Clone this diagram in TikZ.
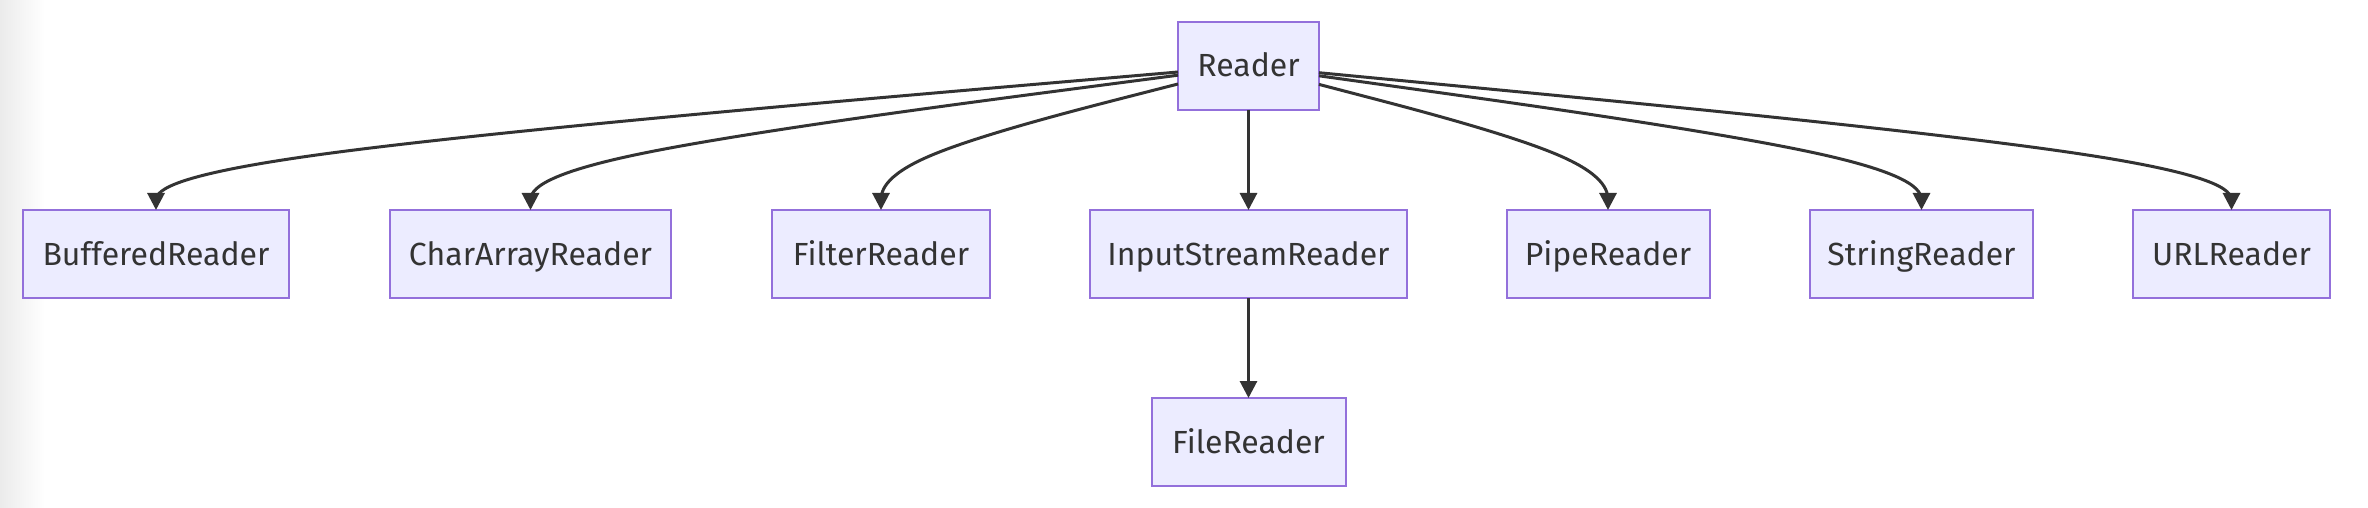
\documentclass[tikz,border=0pt]{standalone}
\usepackage{fontspec}
\setmainfont{Fira Sans}
\usetikzlibrary{calc,arrows.meta}
\definecolor{nodefill}{HTML}{ECECFF}
\definecolor{nodeline}{HTML}{9370DB}
\definecolor{edgecol}{HTML}{333333}
\definecolor{txtcol}{HTML}{333333}
\definecolor{leftgray}{HTML}{EBEBEB}
\tikzset{
  cls/.style={draw=nodeline, fill=nodefill, line width=1pt, rectangle,
    minimum height=44pt, inner sep=0pt, outer sep=0pt, text=txtcol,
    font=\fontsize{16}{19}\selectfont, text height=11pt, text depth=0pt},
  edge/.style={draw=edgecol, line width=1.5pt,
    -{Triangle[length=8.5pt,width=8.5pt]}},
}
\newcommand\basisedge[2]{%
  \path (#2.north) ++(0,-50) coordinate (m);
  \coordinate (c) at (#2.north);
  \path (#1) -- (m) coordinate[pos=0] (a);
  \draw[edge] (a) -- ($(a)!1/6!(m)$)
    .. controls ($(a)!1/3!(m)$) and ($(a)!2/3!(m)$) .. ($1/6*(a)+2/3*(m)+1/6*(c)$)
    .. controls ($(m)!1/3!(c)$) and ($(m)!2/3!(c)$) .. ($(m)!5/6!(c)$) -- (c);
}
\begin{document}
\begin{tikzpicture}[x=0.5pt,y=-0.5pt]
  \useasboundingbox (0,0) rectangle (2368,508);
  \fill[white] (0,0) rectangle (2368,508);
  \shade[left color=leftgray, right color=white] (0,0) rectangle (45,508);

  \node[cls, minimum width=70.5pt]  (R)   at (1248.5,66)  {Reader};
  \node[cls, minimum width=133pt]   (BR)  at (156,254)    {BufferedReader};
  \node[cls, minimum width=140.5pt] (CAR) at (530.5,254)  {CharArrayReader};
  \node[cls, minimum width=109pt]   (FR)  at (881,254)    {FilterReader};
  \node[cls, minimum width=158.5pt] (ISR) at (1248.5,254) {InputStreamReader};
  \node[cls, minimum width=101.5pt] (PR)  at (1608,254)   {PipeReader};
  \node[cls, minimum width=111.5pt] (SR)  at (1921.5,254) {StringReader};
  \node[cls, minimum width=98.5pt]  (UR)  at (2231.5,254) {URLReader};
  \node[cls, minimum width=97pt]    (FiR) at (1248.5,442) {FileReader};

  \basisedge{R}{BR}
  \basisedge{R}{CAR}
  \basisedge{R}{FR}
  \draw[edge] (R) -- (ISR);
  \basisedge{R}{PR}
  \basisedge{R}{SR}
  \basisedge{R}{UR}
  \draw[edge] (ISR) -- (FiR);
\end{tikzpicture}
\end{document}
